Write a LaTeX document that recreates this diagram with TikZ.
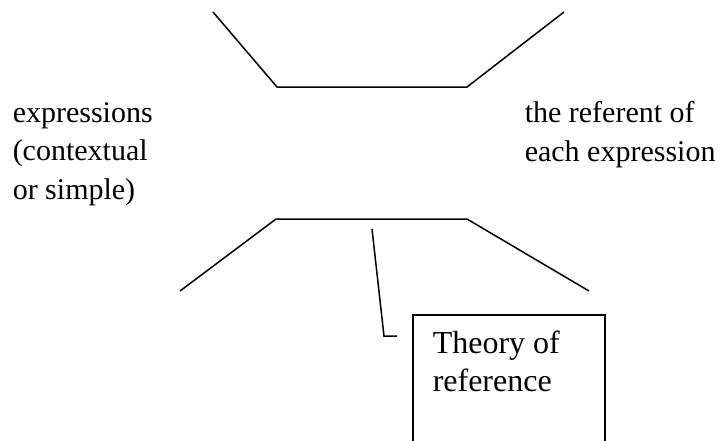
\documentclass[tikz,border=0pt]{standalone}
\usepackage{fontspec}
\setmainfont{Liberation Serif}
\begin{document}
\begin{tikzpicture}[x=1pt,y=-1pt,line width=1.5pt]
\clip (0,0) rectangle (724,440);
\coordinate (t1) at (213,12);
\coordinate (t2) at (277,87);
\coordinate (t3) at (467,87);
\coordinate (t4) at (564,12);
\coordinate (b1) at (180,291);
\coordinate (b2) at (276,219);
\coordinate (b3) at (467,219);
\coordinate (b4) at (589,291);
\coordinate (cs) at (372,229);
\coordinate (cm) at (384,336);
\coordinate (ce) at (397,336);
\node[align=left, anchor=base west, inner sep=0, font=\fontsize{30}{38.5}\selectfont] (expr) at (12,199) {expressions\\(contextual\\or simple)};
\node[align=left, anchor=base west, inner sep=0, font=\fontsize{30}{38.5}\selectfont] (refr) at (524,161) {the referent of\\each expression};
\node[draw, line width=1.8pt, minimum width=192, minimum height=160, anchor=north west] (refbox) at (412,314) {};
\node[align=left, anchor=base west, inner sep=0, font=\fontsize{32}{38}\selectfont] (reftext) at (432,391) {Theory of\\reference};
\draw (t1) -- (t2) -- (t3) -- (t4);
\draw (b1) -- (b2) -- (b3) -- (b4);
\draw (cs) -- (cm) -- (ce);
\end{tikzpicture}
\end{document}
